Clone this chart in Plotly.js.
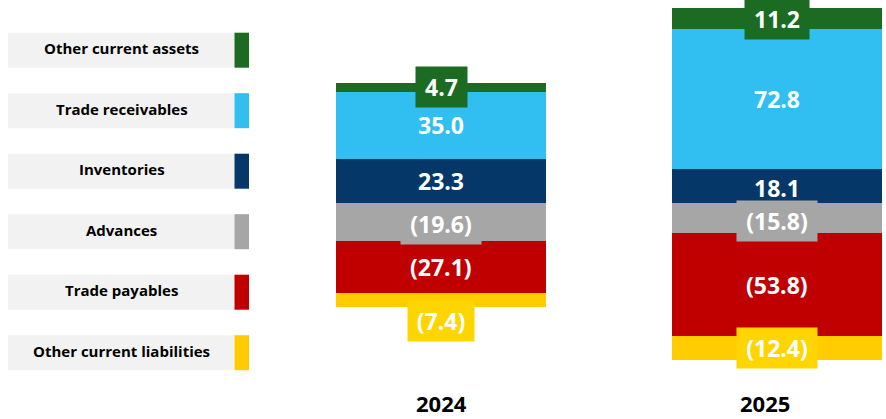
<!DOCTYPE html>
<html>
<head>
<meta charset="utf-8">
<script src="https://cdn.plot.ly/plotly-3.0.1.min.js"></script>
<style>html,body{margin:0;padding:0;background:#fff;}#chart{width:886px;height:419px;}</style>
</head>
<body>
<div id="chart"></div>
<script>
// ---- Data ----
const years = ['2024', '2025'];
const inventories = [23.3, 18.1];
const tradeReceivables = [35.0, 72.8];
const otherCurrentAssets = [4.7, 11.2];
const advances = [-19.6, -15.8];
const tradePayables = [-27.1, -53.8];
const otherCurrentLiabilities = [-7.4, -12.4];

// legend order (top to bottom)
const legendNames = ['Other current assets', 'Trade receivables', 'Inventories', 'Advances', 'Trade payables', 'Other current liabilities'];

// ---- Styles ----
const FONT = 'Open Sans, sans-serif';
const series = [
  {name: 'Inventories', y: inventories, color: '#053868', box: false},
  {name: 'Trade receivables', y: tradeReceivables, color: '#31BEF0', box: false},
  {name: 'Other current assets', y: otherCurrentAssets, color: '#1B6B23', box: true},
  {name: 'Advances', y: advances, color: '#A6A6A6', box: true},
  {name: 'Trade payables', y: tradePayables, color: '#C00000', box: false},
  {name: 'Other current liabilities', y: otherCurrentLiabilities, color: '#FFCC00', box: true, boxColor: '#FFD500'}
];
const labelShift = {'Other current liabilities|2024': -21, 'Advances|2024': -2, 'Advances|2025': -3, 'Inventories|2025': -2};
const yearShift = {'2025': -12};

const W = 886, H = 419;
const M = {l: 270, r: 0, t: 8, b: 59};
const PW = W - M.l - M.r, PH = H - M.t - M.b;
const px = p => (p - M.l) / PW;
const py = p => 1 - (p - M.t) / PH;

const canvas = document.createElement('canvas');
const ctx = canvas.getContext('2d');
function textW(t, f) { ctx.font = f; return ctx.measureText(t).width; }

const fmt = v => v < 0 ? '(' + Math.abs(v).toFixed(1) + ')' : v.toFixed(1);

const traces = series.map(s => ({
  type: 'bar', x: years, y: s.y, name: s.name,
  marker: {color: s.color, line: {width: 0}},
  width: 0.625, hoverinfo: 'skip', showlegend: false
}));

const annotations = [];
const shapes = [];
// value labels
const posCum = years.map(() => 0), negCum = years.map(() => 0);
series.forEach(s => {
  s.y.forEach((v, i) => {
    let c;
    if (v >= 0) { c = posCum[i] + v / 2; posCum[i] += v; }
    else { c = negCum[i] + v / 2; negCum[i] += v; }
    const t = fmt(v);
    const a = {
      x: i, y: c, xref: 'x', yref: 'y', text: '<b>' + t + '</b>', showarrow: false,
      xanchor: 'center', yanchor: 'middle',
      font: {family: FONT, size: 23, color: '#ffffff'},
      yshift: labelShift[s.name + '|' + years[i]] || 0
    };
    if (s.box) {
      const tw = textW(t, 'bold 23px "Open Sans"');
      a.bgcolor = s.boxColor || s.color;
      a.width = Math.round(tw + 14);
      a.height = 36;
      a.borderpad = 2;
    }
    annotations.push(a);
  });
});
// year labels
years.forEach((y, i) => annotations.push({
  x: i, y: 0, xref: 'x', yref: 'paper', yanchor: 'middle', xanchor: 'center', yshift: -42.5,
  xshift: yearShift[y] || 0,
  text: '<b>' + y + '</b>', showarrow: false, font: {family: FONT, size: 22, color: '#000000'}
}));
// custom legend
const colorOf = n => series.find(s => s.name === n).color;
legendNames.forEach((n, i) => {
  const top = 32.7 + i * 60.5, bot = top + 35;
  shapes.push({type: 'rect', xref: 'paper', yref: 'paper', x0: px(8), x1: px(234.5), y0: py(bot), y1: py(top),
    fillcolor: '#F2F2F2', line: {width: 0}, layer: 'above'});
  shapes.push({type: 'rect', xref: 'paper', yref: 'paper', x0: px(234.5), x1: px(249), y0: py(bot), y1: py(top),
    fillcolor: colorOf(n), line: {width: 0}, layer: 'above'});
  annotations.push({xref: 'paper', yref: 'paper', x: px(121.5), y: py((top + bot) / 2), xanchor: 'center', yanchor: 'middle',
    yshift: 2,
    text: '<b>' + n + '</b>', showarrow: false, font: {family: FONT, size: 15, color: '#000000'}});
});

const layout = {
  width: W, height: H, margin: M,
  paper_bgcolor: '#ffffff', plot_bgcolor: '#ffffff',
  barmode: 'relative', bargap: 0,
  xaxis: {type: 'category', range: [-0.509, 1.324], showticklabels: false, showgrid: false, zeroline: false, showline: false, ticks: '', fixedrange: true},
  yaxis: {range: [-82, 102.1], showticklabels: false, showgrid: false, zeroline: false, showline: false, ticks: '', fixedrange: true},
  annotations: annotations, shapes: shapes, showlegend: false
};
Plotly.newPlot('chart', traces, layout, {displayModeBar: false, staticPlot: true});
</script>
</body>
</html>
